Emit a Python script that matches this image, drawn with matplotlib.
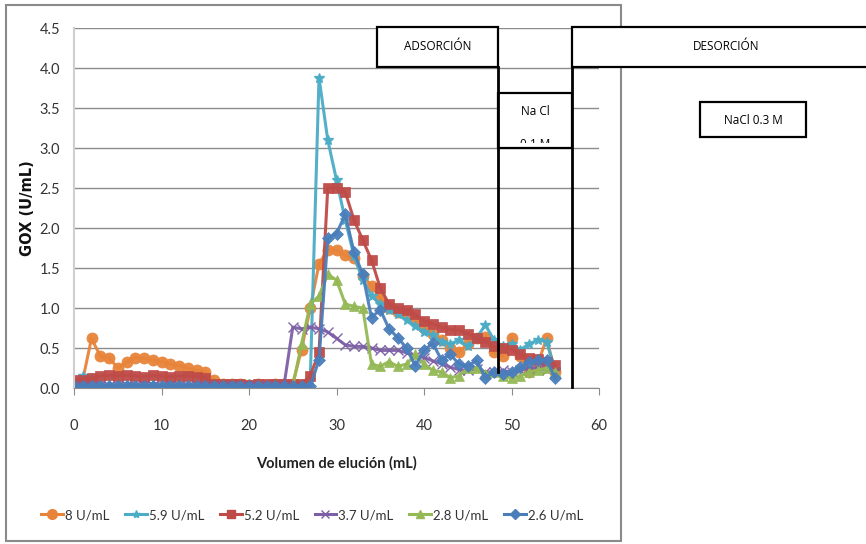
import numpy as np
import matplotlib
matplotlib.use("Agg")
import matplotlib.pyplot as plt
from matplotlib.patches import Rectangle
from matplotlib.lines import Line2D
from matplotlib.transforms import Bbox

plt.rcParams["font.family"] = ["Lato", "DejaVu Sans"]

vol = list(range(56))

s_8_0 = [0.05, 0.10, 0.62, 0.40, 0.38, 0.25, 0.32, 0.38, 0.37, 0.35,
         0.33, 0.30, 0.28, 0.25, 0.22, 0.20, 0.10, 0.05, 0.05, 0.05,
         0.04, 0.05, 0.04, 0.05, 0.05, 0.05, 0.48, 1.00, 1.55, 1.73,
         1.72, 1.66, 1.62, 1.40, 1.28, 1.12, 1.00, 0.95, 0.92, 0.85,
         0.75, 0.68, 0.60, 0.50, 0.45, 0.55, 0.62, 0.64, 0.45, 0.40,
         0.63, 0.40, 0.20, 0.30, 0.62, 0.20]
s_5_9 = [0.05, 0.15, 0.12, 0.05, 0.04, 0.05, 0.05, 0.04, 0.05, 0.05,
         0.04, 0.05, 0.05, 0.04, 0.05, 0.05, 0.04, 0.05, 0.05, 0.04,
         0.05, 0.05, 0.04, 0.05, 0.05, 0.04, 0.05, 0.10, 3.88, 3.10,
         2.60, 2.10, 1.65, 1.35, 1.15, 1.05, 0.98, 0.92, 0.85, 0.78,
         0.70, 0.66, 0.58, 0.55, 0.60, 0.52, 0.62, 0.79, 0.60, 0.52,
         0.55, 0.48, 0.55, 0.60, 0.58, 0.22]
s_5_2 = [0.10, 0.10, 0.12, 0.15, 0.16, 0.15, 0.16, 0.15, 0.14, 0.16,
         0.15, 0.14, 0.15, 0.15, 0.14, 0.12, 0.05, 0.05, 0.05, 0.05,
         0.04, 0.05, 0.05, 0.05, 0.05, 0.05, 0.05, 0.15, 0.45, 2.50,
         2.50, 2.45, 2.10, 1.85, 1.60, 1.25, 1.05, 1.00, 0.97, 0.92,
         0.84, 0.80, 0.76, 0.73, 0.72, 0.68, 0.62, 0.58, 0.52, 0.50,
         0.48, 0.42, 0.38, 0.36, 0.33, 0.29]
s_3_7 = [0.03, 0.03, 0.03, 0.03, 0.03, 0.03, 0.03, 0.03, 0.03, 0.03,
         0.03, 0.03, 0.03, 0.03, 0.03, 0.03, 0.03, 0.03, 0.03, 0.03,
         0.03, 0.03, 0.03, 0.03, 0.03, 0.76, 0.74, 0.76, 0.74, 0.70,
         0.62, 0.54, 0.52, 0.52, 0.50, 0.47, 0.47, 0.47, 0.44, 0.40,
         0.38, 0.34, 0.30, 0.26, 0.23, 0.22, 0.24, 0.20, 0.20, 0.22,
         0.20, 0.22, 0.25, 0.25, 0.22, 0.20]
s_2_8 = [0.00, 0.00, 0.01, 0.00, 0.01, 0.00, 0.00, 0.01, 0.00, 0.00,
         0.01, 0.00, 0.00, 0.01, 0.00, 0.00, 0.01, 0.00, 0.00, 0.01,
         0.00, 0.00, 0.01, 0.00, 0.00, 0.02, 0.55, 1.05, 1.15, 1.42,
         1.35, 1.05, 1.02, 1.00, 0.30, 0.27, 0.33, 0.27, 0.30, 0.42,
         0.30, 0.22, 0.20, 0.13, 0.15, 0.25, 0.25, 0.18, 0.20, 0.15,
         0.12, 0.15, 0.20, 0.22, 0.25, 0.20]
s_2_6 = [0.02, 0.03, 0.02, 0.02, 0.03, 0.02, 0.02, 0.03, 0.02, 0.02,
         0.03, 0.02, 0.02, 0.03, 0.02, 0.02, 0.03, 0.02, 0.02, 0.03,
         0.02, 0.02, 0.03, 0.02, 0.02, 0.03, 0.02, 0.02, 0.35, 1.87,
         1.93, 2.17, 1.70, 1.42, 0.88, 0.98, 0.74, 0.63, 0.50, 0.28,
         0.47, 0.56, 0.35, 0.42, 0.30, 0.27, 0.35, 0.13, 0.20, 0.17,
         0.20, 0.26, 0.32, 0.35, 0.35, 0.12]

labels = ["8 U/mL", "5.9 U/mL", "5.2 U/mL", "3.7 U/mL", "2.8 U/mL", "2.6 U/mL"]
colors = ["#E8843A", "#4BACC6", "#BE4B48", "#7D5FA6", "#94B955", "#4A7EBB"]
markers = ["o", "*", "s", "x", "^", "D"]
msizes = [8, 7, 7, 7, 7, 6]

W, H = 866, 544
fig = plt.figure(figsize=(W / 100, H / 100), dpi=100)


def fx(x):
    return x / W


def fy(y):
    return 1 - y / H


ax = fig.add_axes([fx(74), fy(388), fx(599) - fx(74), fy(28) - fy(388)])

series = [s_8_0, s_5_9, s_5_2, s_3_7, s_2_8, s_2_6]
for s, c, m, ms in zip(series, colors, markers, msizes):
    mew = 1.0 if m in ("x", "*") else 0.5
    ax.plot(vol, s, color=c, lw=2.2, marker=m, ms=ms, mec=c, mfc=c, mew=mew,
            alpha=0.95)

ax.set_xlim(0, 60)
ax.set_ylim(0, 4.5)
ax.set_xticks(range(0, 61, 10))
ax.set_yticks(np.arange(0, 4.51, 0.5))
ax.set_yticklabels([f"{v:.1f}" for v in np.arange(0, 4.51, 0.5)])
ax.grid(axis="y", color="#8c8c8c", lw=1.0)
ax.set_axisbelow(True)
ax.tick_params(axis="x", length=5, pad=17, labelsize=10.5, color="#8c8c8c",
               labelcolor="#333333")
ax.tick_params(axis="y", length=0, pad=10, labelsize=10.5, labelcolor="#333333")
for sp in ["top", "right"]:
    ax.spines[sp].set_visible(False)
ax.spines["left"].set_color("#cfcfcf")
ax.spines["left"].set_linewidth(1.5)
ax.spines["bottom"].set_color("#8c8c8c")
ax.set_xlabel("Volumen de elución (mL)", fontsize=10.5, fontweight="bold",
              labelpad=17, color="#222222")
ax.set_ylabel("GOX (U/mL)", fontsize=10.5, fontweight="bold", labelpad=3,
              family=["DejaVu Sans"], color="#111111")

handles = [Line2D([], [], color=c, lw=2.2, marker=m, ms=ms - 1, mfc=c, mec=c)
           for c, m, ms in zip(colors, markers, msizes)]
fig.legend(handles, labels, ncol=6, loc="center", bbox_to_anchor=(fx(312), fy(515)),
           frameon=False, fontsize=9.5, handlelength=1.65, handletextpad=0.15,
           columnspacing=1.2, labelcolor="#333333")

# outer chart border
fig.patches.append(Rectangle((fx(6), fy(541)), fx(621) - fx(6), fy(5) - fy(541),
                             transform=fig.transFigure, fill=False,
                             ec="#8a8a8a", lw=1.5))

# annotation boxes and separators
box_font = ["Open Sans", "DejaVu Sans"]


def box(x0, y0, x1, y1, txt=None, ty=None, fs=8.5):
    r = Rectangle((fx(x0), fy(y1)), fx(x1) - fx(x0), fy(y0) - fy(y1),
                  transform=fig.transFigure, fc="white", ec="black", lw=1.6)
    fig.patches.append(r)
    if txt:
        fig.text(fx((x0 + x1) / 2), fy(ty), txt, ha="center", va="center",
                 fontsize=fs, family=box_font)
    return r


fig.add_artist(Line2D([fx(498), fx(498)], [fy(67), fy(372)], color="black", lw=2))
fig.add_artist(Line2D([fx(572), fx(572)], [fy(67), fy(387)], color="black", lw=2))
box(377, 27, 498, 67, "ADSORCIÓN", 47)
box(572, 27, 880, 67, "DESORCIÓN", 47)
box(498, 93, 572, 148, "Na Cl", 112)
t = fig.text(fx(535), fy(145), "0.1 M", ha="center", va="center", fontsize=8.5,
             family=box_font)
t.set_clip_box(Bbox.from_extents(498, fy(143) * H, 572, fy(93) * H))
box(700, 102, 806, 137, "NaCl 0.3 M", 120)

fig.savefig("out.png", dpi=100)
